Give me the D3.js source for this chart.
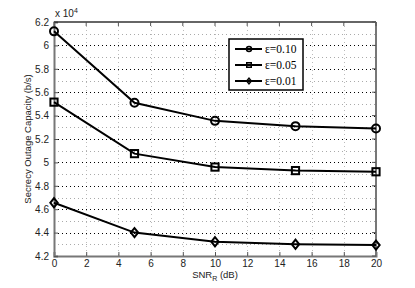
<!DOCTYPE html>
<html>
<head>
<meta charset="utf-8">
<script src="https://cdn.jsdelivr.net/npm/d3@7"></script>
<style>
  body { margin: 0; background: #fff; }
  svg { font-family: "Liberation Sans", Arial, sans-serif; }
</style>
</head>
<body>
<div id="chart"></div>
<script>
// data (values are in units of 10^4 b/s)
const snr = [0, 5, 10, 15, 20];
const eps10 = [6.12, 5.51, 5.355, 5.31, 5.29];
const eps05 = [5.515, 5.075, 4.96, 4.93, 4.92];
const eps01 = [4.655, 4.40, 4.322, 4.30, 4.293];
const seriesNames = ["\u03b5=0.10", "\u03b5=0.05", "\u03b5=0.01"];
const markerTypes = ["circle", "square", "diamond"];
const xTicks = [0, 2, 4, 6, 8, 10, 12, 14, 16, 18, 20];
const yTicks = [4.2, 4.4, 4.6, 4.8, 5, 5.2, 5.4, 5.6, 5.8, 6, 6.2];
const yMinor = [4.3, 4.5, 4.7, 4.9, 5.1, 5.3, 5.5, 5.7, 5.9, 6.1];

const W = 415, H = 288;
const margin = {top: 22, right: 39, bottom: 32, left: 54};
const width = W - margin.left - margin.right;
const height = H - margin.top - margin.bottom;

const svg = d3.select("#chart").append("svg")
    .attr("width", W)
    .attr("height", H);

const g = svg.append("g")
    .attr("transform", `translate(${margin.left},${margin.top})`);

const x = d3.scaleLinear().domain([0, 20]).range([0, width]);
const y = d3.scaleLinear().domain([4.2, 6.2]).range([height, 0]);

// grid
g.selectAll(".vgrid").data(xTicks.slice(1, -1)).enter().append("line")
    .attr("x1", d => Math.round(x(d)) + 0.5).attr("x2", d => Math.round(x(d)) + 0.5)
    .attr("y1", 0).attr("y2", height)
    .attr("stroke", "#bbb").attr("stroke-width", 1)
    .attr("stroke-dasharray", "1,3");

g.selectAll(".hminor").data(yMinor).enter().append("line")
    .attr("x1", 0).attr("x2", width)
    .attr("y1", d => Math.round(y(d)) + 0.5).attr("y2", d => Math.round(y(d)) + 0.5)
    .attr("stroke", "#aaa").attr("stroke-width", 1)
    .attr("stroke-dasharray", "1,3");

g.selectAll(".hmajor").data(yTicks.slice(1, -1)).enter().append("line")
    .attr("x1", 0).attr("x2", width)
    .attr("y1", d => Math.round(y(d)) + 0.5).attr("y2", d => Math.round(y(d)) + 0.5)
    .attr("stroke", "#000").attr("stroke-width", 1)
    .attr("stroke-dasharray", "1,3");

// axes
const xAxis = d3.axisBottom(x).tickValues(xTicks).tickSize(-4).tickPadding(4);
const yAxis = d3.axisLeft(y).tickValues(yTicks).tickSize(-4).tickPadding(5)
    .tickFormat(d3.format("~g"));

g.append("g")
    .attr("transform", `translate(0,${height})`)
    .call(xAxis)
    .call(a => a.select(".domain").attr("stroke", "#777").attr("stroke-width", 2))
    .call(a => a.selectAll(".tick line").attr("stroke", "#555"))
    .call(a => a.selectAll("text").attr("font-size", 10).attr("fill", "#222")
        .attr("font-family", "Liberation Sans, Arial, sans-serif"));

g.append("g")
    .call(yAxis)
    .call(a => a.select(".domain").attr("stroke", "#777").attr("stroke-width", 2))
    .call(a => a.selectAll(".tick line").attr("stroke", "#555"))
    .call(a => a.selectAll("text").attr("font-size", 10).attr("fill", "#222")
        .attr("font-family", "Liberation Sans, Arial, sans-serif"));

// top and right box edges
g.append("line").attr("x1", 0).attr("x2", width).attr("y1", 0).attr("y2", 0)
    .attr("stroke", "#333").attr("stroke-width", 1.5);
g.append("line").attr("x1", width).attr("x2", width).attr("y1", 0).attr("y2", height)
    .attr("stroke", "#777").attr("stroke-width", 2);

// right and top ticks
g.selectAll(".rtick").data(yTicks).enter().append("line")
    .attr("x1", width - 4).attr("x2", width)
    .attr("y1", d => y(d)).attr("y2", d => y(d))
    .attr("stroke", "#555");
g.selectAll(".ttick").data(xTicks).enter().append("line")
    .attr("x1", d => x(d)).attr("x2", d => x(d))
    .attr("y1", 0).attr("y2", 4)
    .attr("stroke", "#555");

// exponent label
const expo = svg.append("text")
    .attr("x", margin.left + 1).attr("y", 17)
    .attr("font-size", 10).attr("fill", "#222");
expo.append("tspan").text("x 10");
expo.append("tspan").attr("dy", -4).attr("font-size", 7).text("4");

// axis titles
svg.append("text")
    .attr("transform", `translate(31,${margin.top + height / 2}) rotate(-90)`)
    .attr("text-anchor", "middle")
    .attr("font-size", 9.5).attr("fill", "#222")
    .text("Secrecy Outage Capacity (b/s)");

const xt = svg.append("text")
    .attr("x", margin.left + width / 2).attr("y", 278)
    .attr("text-anchor", "middle")
    .attr("font-size", 9.5).attr("fill", "#222");
xt.append("tspan").text("SNR");
xt.append("tspan").attr("dy", 3).attr("font-size", 7).text("R");
xt.append("tspan").attr("dy", -3).text(" (dB)");

// series
const allSeries = [eps10, eps05, eps01];
const line = d3.line().x((d, i) => x(snr[i])).y(d => y(d));

function drawMarker(sel, type, cx, cy, s, sw) {
    if (type === "circle") {
        sel.append("circle").attr("cx", cx).attr("cy", cy).attr("r", s)
            .attr("fill", "none").attr("stroke", "#000").attr("stroke-width", sw);
    } else if (type === "square") {
        sel.append("rect").attr("x", cx - s * 0.9).attr("y", cy - s * 0.9)
            .attr("width", s * 1.8).attr("height", s * 1.8)
            .attr("fill", "none").attr("stroke", "#000").attr("stroke-width", sw);
    } else {
        const r = s * 1.15;
        sel.append("path")
            .attr("d", `M${cx},${cy - r}L${cx + r * 0.8},${cy}L${cx},${cy + r}L${cx - r * 0.8},${cy}Z`)
            .attr("fill", "none").attr("stroke", "#000").attr("stroke-width", sw);
    }
}

allSeries.forEach((vals, k) => {
    g.append("path").datum(vals)
        .attr("d", line)
        .attr("fill", "none").attr("stroke", "#000").attr("stroke-width", 2);
    const mg = g.append("g");
    vals.forEach((v, i) => drawMarker(mg, markerTypes[k], x(snr[i]), y(v), 4, 2));
});

// legend
const lg = svg.append("g").attr("transform", "translate(229,39)");
lg.append("rect").attr("x", 0).attr("y", 0).attr("width", 74).attr("height", 51)
    .attr("fill", "#fff").attr("stroke", "#000").attr("stroke-width", 1.5);
seriesNames.forEach((name, k) => {
    const ly = 10 + k * 16;
    lg.append("line").attr("x1", 6).attr("x2", 33).attr("y1", ly).attr("y2", ly)
        .attr("stroke", "#000").attr("stroke-width", 2);
    drawMarker(lg, markerTypes[k], 20, ly, 2.5, 1.5);
    lg.append("text").attr("x", 36).attr("y", ly + 4)
        .style("font-family", "'Liberation Serif', 'Times New Roman', serif")
        .attr("font-size", 11.5).attr("fill", "#000")
        .text(name);
});
</script>
</body>
</html>
